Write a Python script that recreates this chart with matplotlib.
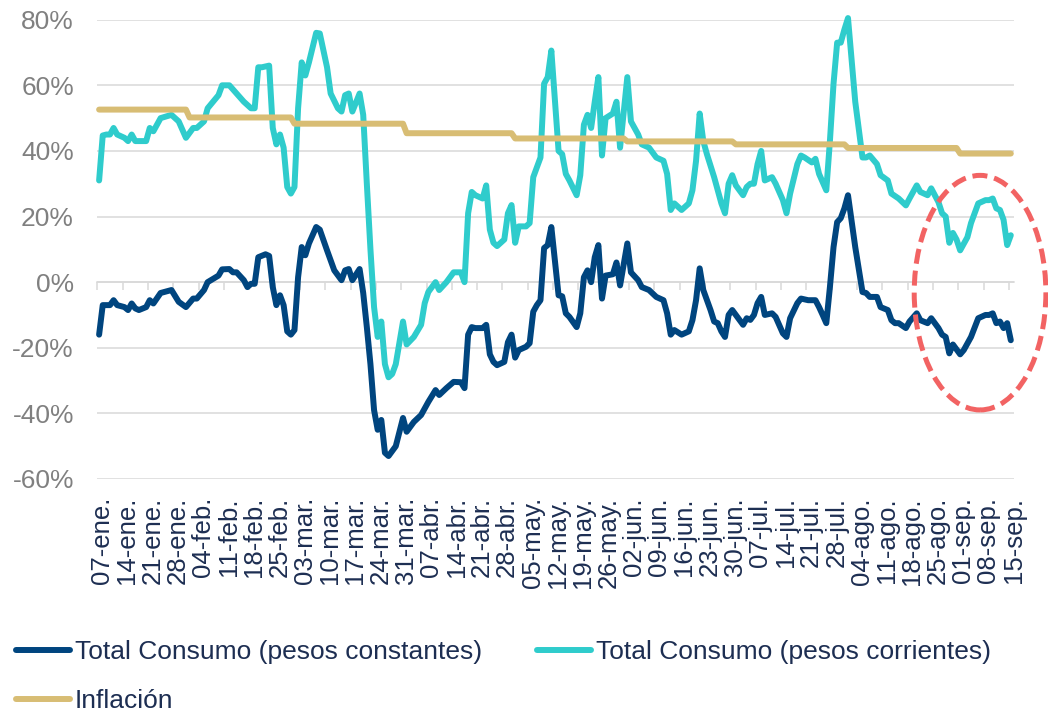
import numpy as np
import matplotlib
matplotlib.use("Agg")
import matplotlib.pyplot as plt
from matplotlib.patches import Ellipse

plt.rcParams['font.family'] = ['Liberation Sans', 'DejaVu Sans']

# ---------------- data (days counted from 07-ene) ----------------
const_days = [0, 1, 3, 4, 5, 7, 8, 9, 10, 11, 13, 14, 15, 17, 20, 22, 24, 26, 27, 29,
              30, 33, 34, 36, 37, 38, 40, 41, 42, 43, 44, 46, 47, 48, 49, 50, 51, 52, 53, 54,
              55, 56, 57, 58, 60, 61, 63, 65, 67, 68, 69, 70, 72, 73, 74, 75, 76, 77, 78, 79,
              80, 82, 84, 85, 87, 89, 91, 93, 94, 96, 98, 100, 101, 102, 103, 104, 106, 107, 108, 109,
              110, 112, 113, 114, 115, 116, 118, 119, 120, 121, 122, 123, 124, 125, 127, 128, 129, 130, 132, 133,
              134, 135, 136, 137, 138, 139, 140, 142, 143, 144, 146, 147, 149, 150, 152, 154, 156, 157, 158, 159,
              161, 163, 164, 165, 166, 167, 168, 169, 170, 171, 172, 173, 174, 175, 176, 178, 179, 180, 181, 182,
              183, 184, 186, 187, 189, 190, 191, 193, 194, 196, 198, 199, 200, 201, 202, 203, 204, 205, 206, 207,
              209, 211, 212, 213, 215, 216, 218, 219, 220, 221, 223, 224, 226, 227, 229, 230, 232, 233, 234, 235,
              236, 238, 239, 241, 243, 245, 246, 247, 248, 249, 250, 251, 252]
const_vals = [-16, -7, -7, -5.5, -7, -7.6, -8.5, -6.5, -8, -8.5, -7.6, -5.5, -6.5, -3.3, -2.4, -6, -7.6, -5, -5, -2.4,
              0, 2, 3.9, 4, 3, 3, 0.6, -1.5, -0.5, -0.5, 7.6, 8.5, 8, -1.5, -7, -4, -7, -15, -16, -14.6,
              1.5, 10.7, 8.2, 11.8, 16.8, 16, 9.7, 3.6, 0.6, 3.6, 4, 0.6, 4, -3.3, -13.7, -25, -39, -45, -42, -52,
              -53, -50, -41.4, -45.6, -42.6, -40.5, -36.5, -32.9, -34.4, -32.3, -30.4, -30.5, -32.3, -16, -13.7, -14, -14, -13, -22, -24.3,
              -25.3, -24.3, -18.3, -16, -23, -20.7, -19.7, -18.6, -9, -7, -5.5, 10.4, 11.3, 16.8, -4, -4.3, -9.5, -10.6, -13.7, -9.5,
              1.5, 3.6, 0, 7.6, 11.3, -5, 2, 2.4, 6, -1, 11.8, 3, 0.6, -1.5, -2.4, -4.5, -5.5, -9.5, -16, -14.6,
              -16, -15, -11.6, -5.5, 4.2, -2.4, -5.5, -8.5, -12, -12.5, -15, -16.7, -10, -8.5, -10, -13, -11, -11.5, -10, -6.4,
              -4.5, -10, -9.5, -10.6, -15.6, -16.7, -11, -6.4, -5, -5.5, -5.5, -7.6, -10, -12.5, -1.5, 10.7, 18.3, 19.5, 22.5, 26.5,
              10.7, -3, -3.3, -4.5, -4.5, -7.6, -8.5, -11.6, -12.5, -12.5, -14, -12, -9.5, -11.6, -12.5, -11, -14, -16, -16.7, -21.7,
              -19, -22, -20.7, -16.7, -11, -10, -10, -9.5, -12.5, -12, -14, -12.5, -17.7]

corr_days = [0, 1, 2, 3, 4, 5, 7, 8, 9, 10, 13, 14, 15, 17, 20, 22, 24, 26, 27, 29,
             30, 33, 34, 36, 38, 40, 42, 43, 44, 45, 47, 48, 49, 50, 51, 52, 53, 54, 55, 56,
             57, 58, 60, 61, 63, 64, 66, 67, 68, 69, 70, 72, 73, 74, 75, 76, 77, 78, 79, 80,
             81, 82, 84, 85, 87, 89, 90, 91, 93, 94, 96, 98, 100, 101, 102, 103, 104, 106, 107, 108,
             109, 110, 112, 113, 114, 115, 116, 118, 119, 120, 121, 122, 123, 124, 125, 127, 128, 129, 130, 132,
             133, 134, 135, 136, 137, 138, 139, 140, 142, 143, 144, 146, 147, 149, 150, 152, 154, 156, 157, 158,
             159, 161, 163, 164, 165, 166, 167, 168, 170, 171, 172, 173, 174, 175, 176, 178, 179, 180, 181, 182,
             183, 184, 186, 187, 189, 190, 191, 193, 194, 195, 197, 198, 199, 201, 202, 203, 204, 205, 206, 207,
             209, 211, 212, 213, 215, 216, 218, 219, 221, 223, 224, 226, 227, 229, 230, 232, 233, 234, 235, 236,
             237, 238, 240, 241, 243, 245, 246, 247, 248, 249, 250, 251, 252]
corr_vals = [31, 44.7, 45, 45, 47, 45, 44, 43, 45, 43, 43, 47, 46, 50, 51, 49, 44, 47, 47, 49,
             53, 57, 60, 60, 57.5, 55, 53, 53, 65.5, 65.5, 66, 47, 42, 45, 41, 29, 27, 29, 53, 67,
             63, 67, 76, 75.8, 65.5, 57.5, 53, 52, 57, 57.5, 52, 57.5, 51, 30, 10, -7.6, -16.7, -12, -25, -29,
             -28, -25, -12, -19, -16.7, -13, -6.4, -3, 0, -2.4, 0, 3, 3, 0, 21, 27.5, 26.5, 25.5, 29.5, 16,
             12, 11, 13, 21, 23.5, 12, 17, 17, 18, 32, 35, 38, 60.5, 62.5, 70.6, 40, 39, 33, 31, 26.5,
             32.6, 48, 51, 47, 55, 62.5, 38.6, 50, 51.4, 55, 41, 62.5, 49, 45, 42, 41, 38, 37, 33, 22,
             24, 22, 24, 28, 37, 51.4, 43, 39, 32, 28, 24, 21, 30, 32.6, 29.5, 26.5, 29, 30, 30, 36,
             40, 31, 32, 30, 25, 21, 27, 36, 38.6, 38, 36.5, 37.6, 33, 28, 43, 60.5, 73, 73, 77, 80.5,
             55, 38, 38, 38.6, 36, 32.6, 31, 27, 25.5, 23.4, 25.5, 29.5, 27.5, 26.5, 28.6, 24.4, 21, 20, 12, 15,
             13, 9.7, 13.7, 18, 24, 25, 25, 25.5, 22.5, 22, 19, 11.3, 14.3]

# monthly inflation (step series), first day of each month in day-index
infl_month_start = [0, 25, 54, 85, 115, 146, 176, 207, 238]
infl_month_vals = [52.6, 50.2, 48.3, 45.4, 43.8, 42.9, 42.0, 40.9, 39.2]
last_day = 252

tick_labels = ["07-ene.", "14-ene.", "21-ene.", "28-ene.", "04-feb.", "11-feb.", "18-feb.",
               "25-feb.", "03-mar.", "10-mar.", "17-mar.", "24-mar.", "31-mar.", "07-abr.",
               "14-abr.", "21-abr.", "28-abr.", "05-may.", "12-may.", "19-may.", "26-may.",
               "02-jun.", "09-jun.", "16-jun.", "23-jun.", "30-jun.", "07-jul.", "14-jul.",
               "21-jul.", "28-jul.", "04-ago.", "11-ago.", "18-ago.", "25-ago.", "01-sep.",
               "08-sep.", "15-sep."]

series_names = ["Total Consumo (pesos constantes)", "Total Consumo (pesos corrientes)", "Inflación"]

# ---------------- styling ----------------
C_CONST = "#00457f"
C_CORR = "#2fcccc"
C_INFL = "#d8bd74"
C_GRID = "#d9d9d9"
C_TXT = "#1d2e52"
C_YTXT = "#808080"
C_RED = "#f26363"
LW = 4.3

infl_days = np.arange(0, last_day + 1)
infl_vals = np.array(infl_month_vals)[np.searchsorted(infl_month_start, infl_days, side='right') - 1]

fig = plt.figure(figsize=(10.48, 7.12), dpi=100)
ax = fig.add_axes([97.3 / 1048, 1 - 479 / 712, (1013.7 - 97.3) / 1048, (479 - 19.7) / 712])

ax.set_xlim(-0.5, 252.5)
ax.set_ylim(-60, 80)

for s in ax.spines.values():
    s.set_visible(False)

yt = list(range(-60, 81, 20))
ax.set_yticks(yt)
ax.set_yticklabels([f"{v}%" for v in yt])
ax.tick_params(axis='y', length=0, pad=16.8, labelsize=19, labelcolor=C_YTXT)
ax.yaxis.grid(True, color=C_GRID, lw=1.1)
ax.set_axisbelow(True)

label_pos = [7 * k + 0.8 for k in range(len(tick_labels))]
ax.set_xticks(label_pos)
ax.set_xticklabels(tick_labels, rotation=90, fontsize=18.5, color=C_TXT)
ax.tick_params(axis='x', length=0, pad=13)

# category axis line at 0% with tick marks
sec = ax.secondary_xaxis(60 / 140)
sec.set_xticks([7 * k - 0.5 for k in range(len(tick_labels))])
sec.tick_params(axis='x', direction='out', length=5.8, width=1.1, color=C_GRID,
                labelbottom=False, labeltop=False)
for s in sec.spines.values():
    s.set_color(C_GRID)
    s.set_linewidth(1.1)

l1, = ax.plot(const_days, const_vals, color=C_CONST, lw=LW, solid_joinstyle='round',
              solid_capstyle='round', clip_on=False, zorder=3, label=series_names[0])
l2, = ax.plot(corr_days, corr_vals, color=C_CORR, lw=LW, solid_joinstyle='round',
              solid_capstyle='round', clip_on=False, zorder=4, label=series_names[1])
l3, = ax.plot(infl_days, infl_vals, color=C_INFL, lw=LW, solid_joinstyle='round',
              solid_capstyle='round', clip_on=False, zorder=5, label=series_names[2])

ell = Ellipse((243.5, -3.2), 36.4, 71.5, fill=False, edgecolor=C_RED, lw=3.6,
              linestyle=(0, (3, 1.4)), clip_on=False, zorder=6)
ax.add_patch(ell)

leg = fig.legend([l1, l3, l2], [series_names[0], series_names[2], series_names[1]],
                 ncol=2, loc='upper left', bbox_to_anchor=(16 / 1048, 1 - 640 / 712),
                 frameon=False, fontsize=19, labelcolor=C_TXT, handlelength=2.05,
                 handletextpad=0.19, columnspacing=2.08, labelspacing=0.95,
                 borderpad=0, borderaxespad=0)

fig.savefig("out.png", dpi=100)
